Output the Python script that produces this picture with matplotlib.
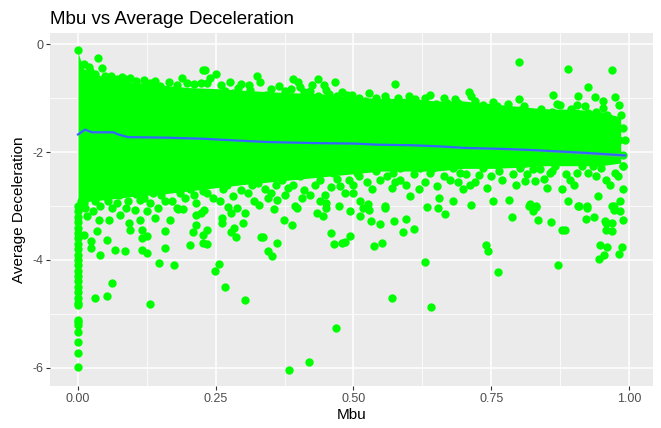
import numpy as np
import matplotlib
matplotlib.use("Agg")
import matplotlib.pyplot as plt
from matplotlib.ticker import MultipleLocator

plt.rcParams['font.family'] = ['Liberation Sans', 'DejaVu Sans']

# dense core of the cloud (top / bottom edge)
core_mbu = [0.0, 0.01, 0.05, 0.10, 0.15, 0.20, 0.25, 0.30, 0.35, 0.40, 0.45,
            0.50, 0.55, 0.60, 0.65, 0.70, 0.75, 0.80, 0.85, 0.90, 0.95, 0.985]
core_top = [-0.15, -0.45, -0.62, -0.7, -0.75, -0.8, -0.82, -0.85, -0.88, -0.9, -0.92,
            -0.98, -1.0, -1.0, -1.05, -1.05, -1.1, -1.15, -1.2, -1.2, -1.25, -1.35]
core_bottom = [-3.0, -2.92, -2.88, -2.82, -2.78, -2.72, -2.66, -2.6, -2.55, -2.5, -2.45,
               -2.4, -2.35, -2.35, -2.35, -2.3, -2.3, -2.28, -2.25, -2.25, -2.25, -2.2]

# the column of points at Mbu = 0
zero_decel = [-3.0, -3.1, -3.2, -3.3, -3.4, -3.5, -3.6, -3.7, -3.8, -3.9, -4.0,
              -4.1, -4.2, -4.3, -4.4, -4.5, -4.6, -4.7, -4.8, -4.83,
              -5.11, -5.15, -5.2, -5.33, -5.52, -5.72, -5.98]

# points hugging the edge of the core
ring_mbu = [0.02, 0.03, 0.06, 0.08, 0.095, 0.12, 0.14, 0.165, 0.21, 0.24, 0.26, 0.275,
            0.29, 0.31, 0.33, 0.35, 0.365, 0.375, 0.40, 0.41, 0.45, 0.455, 0.48, 0.495,
            0.51, 0.52, 0.54, 0.56, 0.585, 0.60, 0.615, 0.63, 0.65, 0.665, 0.675, 0.69,
            0.72, 0.735, 0.76, 0.78, 0.79, 0.81, 0.82, 0.84, 0.86, 0.87, 0.88, 0.895,
            0.91, 0.92, 0.93, 0.94, 0.96, 0.97, 0.985, 0.99,
            0.005, 0.015, 0.03, 0.045, 0.055, 0.075, 0.09, 0.105, 0.12, 0.13, 0.15,
            0.17, 0.185, 0.195, 0.21, 0.235, 0.245, 0.27, 0.295, 0.315, 0.32, 0.345,
            0.36, 0.375, 0.39, 0.41, 0.43, 0.44, 0.46, 0.47, 0.485, 0.50,
            0.51, 0.525, 0.54, 0.56, 0.575, 0.585, 0.595, 0.61, 0.63, 0.645, 0.665,
            0.68, 0.69, 0.705, 0.72, 0.735, 0.75, 0.765, 0.79, 0.795, 0.815, 0.845,
            0.86, 0.885, 0.90, 0.915, 0.94, 0.95, 0.965, 0.98, 0.99]
ring_decel = [-0.42, -0.55, -0.58, -0.6, -0.62, -0.66, -0.68, -0.7, -0.73, -0.62, -0.75, -0.7,
              -0.8, -0.76, -0.7, -0.82, -0.78, -0.86, -0.7, -0.88, -0.85, -0.92, -0.88, -0.98,
              -1.0, -1.05, -1.0, -1.05, -1.1, -0.95, -1.08, -1.0, -1.1, -1.0, -1.15, -1.08,
              -1.05, -1.12, -1.15, -1.1, -1.3, -1.15, -1.3, -1.2, -1.25, -1.1, -1.35, -1.2,
              -1.3, -1.15, -1.35, -1.25, -1.3, -1.4, -1.3, -1.55,
              -2.9, -2.85, -2.9, -2.75, -2.9, -2.8, -2.9, -2.78, -2.85, -2.95, -2.8,
              -2.9, -2.75, -2.85, -2.8, -2.75, -2.85, -2.6, -2.7, -2.6, -2.9, -2.85,
              -2.6, -2.8, -2.6, -2.7, -2.6, -2.9, -2.65, -2.5, -2.75, -2.6,
              -2.45, -2.55, -2.35, -2.45, -2.55, -2.3, -2.6, -2.4, -2.55, -2.3, -2.45,
              -2.3, -2.55, -2.4, -2.55, -2.3, -2.45, -2.35, -2.4, -2.6, -2.4, -2.5,
              -2.35, -2.4, -2.6, -2.25, -2.45, -2.3, -2.6, -2.45, -2.05]

# points above the core
top_mbu = [0.0, 0.037, 0.043, 0.010, 0.022, 0.049, 0.085, 0.106, 0.149, 0.188, 0.197,
           0.179, 0.227, 0.224, 0.131, 0.070, 0.125,
           0.230, 0.250, 0.234, 0.325, 0.296, 0.390, 0.386, 0.403, 0.435, 0.424,
           0.447, 0.466, 0.421, 0.436, 0.312, 0.342, 0.267, 0.358, 0.488, 0.470, 0.282,
           0.575, 0.497, 0.528, 0.557, 0.581, 0.612, 0.639, 0.670, 0.684, 0.710, 0.714,
           0.754, 0.769, 0.506, 0.545, 0.530, 0.603, 0.624, 0.660, 0.696, 0.733, 0.500,
           0.566, 0.645, 0.745,
           0.800, 0.889, 0.969, 0.926, 0.863, 0.907, 0.975, 0.981, 0.800, 0.938, 0.953,
           0.875, 0.905, 0.772, 0.802, 0.832, 0.851, 0.926, 0.953]
top_decel = [-0.11, -0.25, -0.44, -0.37, -0.50, -0.59, -0.65, -0.68, -0.78, -0.62, -0.71,
             -0.75, -0.47, -0.71, -0.71, -0.65, -0.81,
             -0.47, -0.54, -0.71, -0.58, -0.73, -0.65, -0.83, -0.79, -0.64, -0.75,
             -0.76, -0.70, -0.87, -0.95, -0.85, -0.93, -0.87, -1.04, -0.93, -0.96, -0.90,
             -0.73, -0.93, -0.90, -0.96, -0.99, -1.02, -0.93, -1.09, -1.02, -0.89, -0.96,
             -1.07, -1.24, -1.09, -1.12, -1.13, -1.12, -1.12, -1.18, -1.12, -1.21, -1.24,
             -1.24, -1.27, -1.33,
             -0.32, -0.45, -0.48, -0.79, -0.94, -0.96, -0.98, -1.13, -1.02, -0.97, -1.05,
             -1.13, -1.12, -1.24, -1.21, -1.27, -1.27, -1.27, -1.18]

# points in the middle of the sparse right-hand part
mid_mbu = [0.790, 0.826, 0.857, 0.887, 0.917, 0.947, 0.966, 0.981, 0.972, 0.778,
           0.802, 0.845, 0.899, 0.935, 0.993, 0.990, 0.802, 0.835, 0.887, 0.929,
           0.953, 0.826, 0.905]
mid_decel = [-1.46, -1.42, -1.33, -1.46, -1.40, -1.42, -1.58, -1.77, -1.92, -1.64,
             -1.77, -1.64, -1.64, -1.70, -1.78, -2.26, -2.07, -2.14, -2.04, -2.07,
             -2.14, -2.32, -2.38]

# points below the core
low_mbu = [0.518, 0.506, 0.500, 0.512, 0.527, 0.557, 0.533, 0.548, 0.569, 0.572,
           0.590, 0.603, 0.618, 0.621, 0.639, 0.652, 0.656, 0.681, 0.675, 0.699,
           0.711, 0.727, 0.742, 0.754, 0.760, 0.657, 0.554, 0.714, 0.624, 0.530,
           0.584, 0.693,
           0.264, 0.282, 0.258, 0.288, 0.309, 0.339, 0.351, 0.382, 0.406, 0.421,
           0.448, 0.451, 0.475, 0.491, 0.227, 0.224, 0.246, 0.300, 0.327, 0.370,
           0.403, 0.439, 0.463, 0.361, 0.394,
           0.040, 0.049, 0.070, 0.088, 0.113, 0.137, 0.158, 0.179, 0.203, 0.215,
           0.022, 0.010, 0.100, 0.161, 0.064,
           0.013, 0.028, 0.016, 0.061, 0.076, 0.103, 0.125, 0.113, 0.146, 0.191, 0.224,
           0.990, 0.990, 0.984, 0.972, 0.783, 0.820, 0.832, 0.811, 0.829, 0.838,
           0.851, 0.866, 0.878, 0.890, 0.893, 0.909, 0.924, 0.926, 0.944, 0.959,
           0.975, 0.784, 0.769, 0.802, 0.811, 0.857, 0.875, 0.911, 0.935, 0.966,
           0.978, 0.775]
low_decel = [-2.26, -2.38, -2.76, -2.91, -2.97, -3.00, -2.69, -2.51, -2.66, -2.38,
             -2.23, -2.82, -2.69, -2.29, -2.38, -2.63, -2.85, -2.91, -2.51, -2.69,
             -2.60, -2.42, -2.66, -2.91, -2.23, -2.20, -2.17, -2.14, -2.14, -2.11,
             -2.51, -2.38,
             -2.69, -2.82, -2.91, -3.03, -2.76, -2.69, -2.76, -2.66, -2.85, -2.79,
             -2.79, -2.94, -2.63, -2.51, -2.72, -2.51, -2.51, -2.51, -2.57, -2.51,
             -2.45, -2.51, -2.38, -2.88, -3.00,
             -3.00, -2.82, -2.94, -3.03, -2.88, -2.76, -2.91, -3.03, -2.69, -2.94,
             -2.76, -2.94, -2.63, -2.63, -2.63,
             -3.03, -3.10, -3.19, -3.03, -3.16, -3.07, -3.10, -3.26, -3.03, -3.05, -3.13,
             -2.26, -2.69, -2.91, -3.00, -2.88, -2.97, -3.00, -2.54, -2.54, -2.32,
             -2.66, -2.26, -2.69, -2.91, -2.51, -2.99, -3.00, -2.38, -2.82, -2.51,
             -2.38, -2.20, -2.51, -2.29, -2.20, -2.38, -2.14, -2.14, -2.26, -2.11,
             -2.07, -2.14]

# scattered points further down
out_mbu = [0.031, 0.052, 0.061, 0.131, 0.147, 0.174, 0.203, 0.158, 0.126, 0.117,
           0.085, 0.067, 0.040, 0.023, 0.023, 0.052, 0.035, 0.011, 0.094, 0.116,
           0.125, 0.158, 0.215, 0.209, 0.227, 0.038, 0.056, 0.093, 0.116, 0.140,
           0.167, 0.182, 0.215,
           0.229, 0.234, 0.227, 0.234, 0.256, 0.249, 0.267, 0.303, 0.468, 0.419,
           0.383, 0.261, 0.262, 0.277, 0.283, 0.277, 0.287, 0.299, 0.303, 0.332,
           0.336, 0.345, 0.353, 0.361, 0.356, 0.374, 0.388, 0.397, 0.433, 0.445,
           0.451, 0.459, 0.465, 0.479, 0.485, 0.494, 0.494, 0.474, 0.329, 0.272,
           0.512, 0.517, 0.528, 0.531, 0.549, 0.537, 0.551, 0.558, 0.573, 0.589,
           0.596, 0.609, 0.569, 0.630, 0.641, 0.633, 0.654, 0.666, 0.740, 0.745,
           0.762, 0.713,
           0.787, 0.819, 0.826, 0.832, 0.834, 0.859, 0.878, 0.883, 0.871, 0.908,
           0.924, 0.922, 0.936, 0.956, 0.958, 0.969, 0.958, 0.969, 0.990, 0.973,
           0.984, 0.970, 0.947, 0.961, 0.955, 0.946, 0.988, 0.982]
out_decel = [-4.70, -4.66, -4.43, -4.81, -4.05, -4.09, -3.72, -3.78, -3.87, -3.81,
             -3.84, -3.81, -3.91, -3.78, -3.65, -3.63, -3.47, -3.53, -3.44, -3.59,
             -3.56, -3.47, -3.35, -3.48, -3.68, -3.26, -3.26, -3.31, -3.44, -3.22,
             -3.26, -3.05, -3.16,
             -3.07, -3.44, -3.53, -3.70, -4.07, -4.21, -4.50, -4.74, -5.27, -5.89,
             -6.05, -3.22, -3.31, -3.13, -3.40, -3.48, -3.58, -3.31, -3.13, -3.58,
             -3.58, -3.84, -3.92, -3.68, -3.05, -3.26, -3.35, -3.03, -3.13, -3.19,
             -3.03, -3.50, -3.70, -3.68, -3.66, -3.56, -3.10, -2.99, -2.98, -3.01,
             -3.18, -3.03, -3.07, -3.27, -3.34, -3.75, -3.69, -3.03, -3.27, -3.48,
             -3.24, -3.43, -4.71, -4.04, -4.88, -3.01, -3.03, -3.14, -3.72, -3.83,
             -4.23, -2.98,
             -3.20, -3.00, -3.10, -3.01, -3.26, -3.29, -3.45, -3.45, -4.10, -3.00,
             -3.03, -3.24, -3.20, -3.27, -3.32, -3.31, -3.45, -3.47, -3.26, -3.07,
             -3.10, -3.00, -3.72, -3.76, -3.91, -3.98, -3.76, -3.89]

# smoothed trend (blue line) and its band
trend_mbu = [0.0, 0.013, 0.025, 0.064, 0.073, 0.091, 0.161, 0.227, 0.264, 0.342,
             0.427, 0.503, 0.542, 0.603, 0.653, 0.702, 0.775, 0.826, 0.917, 0.993]
trend_decel = [-1.67, -1.58, -1.63, -1.63, -1.67, -1.72, -1.73, -1.75, -1.77, -1.81,
               -1.83, -1.84, -1.86, -1.87, -1.89, -1.92, -1.94, -1.96, -2.01, -2.06]
trend_se = [0.03, 0.02, 0.02, 0.01, 0.01, 0.01, 0.01, 0.01, 0.01, 0.01,
            0.01, 0.01, 0.01, 0.01, 0.015, 0.015, 0.02, 0.02, 0.03, 0.04]

green = '#00FF00'

fig = plt.figure(figsize=(6.61, 4.28), dpi=100)
ax = fig.add_axes([50 / 661, 1 - 386 / 428, 603 / 661, 353 / 428])
ax.set_facecolor('#EBEBEB')

ax.fill_between(core_mbu, core_top, core_bottom, color=green, lw=0, zorder=2)

pt_size = 36
ax.scatter([0.0] * len(zero_decel), zero_decel, s=pt_size, color=green, lw=0, zorder=3)
for xs, ys in [(ring_mbu, ring_decel), (top_mbu, top_decel), (mid_mbu, mid_decel),
               (low_mbu, low_decel), (out_mbu, out_decel)]:
    ax.scatter(xs, ys, s=pt_size, color=green, lw=0, zorder=3)

tm = np.array(trend_decel)
se = np.array(trend_se)
ax.fill_between(trend_mbu, tm - se, tm + se, color='#999999', alpha=0.4, lw=0, zorder=4)
ax.plot(trend_mbu, trend_decel, color='#3366FF', lw=1.6, zorder=5)

ax.set_xlim(-0.0508, 1.0436)
ax.set_ylim(-6.34, 0.213)
ax.xaxis.set_minor_locator(MultipleLocator(0.125))
ax.yaxis.set_minor_locator(MultipleLocator(1))
ax.set_xticks([0, 0.25, 0.5, 0.75, 1.0])
ax.set_xticklabels(['0.00', '0.25', '0.50', '0.75', '1.00'])
ax.set_yticks([0, -2, -4, -6])
ax.set_yticklabels(['0', '-2', '-4', '-6'])

ax.grid(which='major', color='white', lw=1.1, zorder=0)
ax.grid(which='minor', color='white', lw=0.55, zorder=0)
ax.set_axisbelow(True)
for sp in ax.spines.values():
    sp.set_visible(False)
ax.tick_params(which='major', length=3, width=0.8, color='#333333',
               labelcolor='#4D4D4D', labelsize=9, pad=2)
ax.tick_params(which='minor', length=0)

ax.set_xlabel('Mbu', fontsize=11, color='black', labelpad=2)
ax.set_ylabel('Average Deceleration', fontsize=11, color='black', labelpad=4)
fig.text(50 / 661, 1 - 24 / 428, 'Mbu vs Average Deceleration', fontsize=13.5,
         ha='left', va='baseline', color='black')

fig.savefig('out.png', dpi=100)
